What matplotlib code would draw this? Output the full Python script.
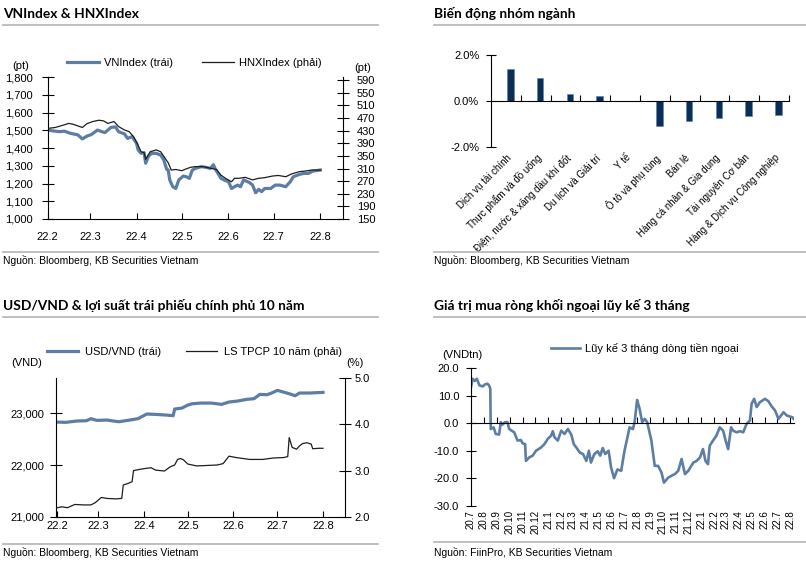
import matplotlib
matplotlib.use('Agg')
import matplotlib.pyplot as plt
import matplotlib.dates as mdates
import matplotlib.ticker as mticker
from matplotlib.lines import Line2D
import pandas as pd

BODY = ['Liberation Sans', 'DejaVu Sans']
TITLE = ['Lato', 'Noto Sans', 'DejaVu Sans']
plt.rcParams['font.family'] = BODY
plt.rcParams['font.size'] = 8

W, H = 806, 562
BLUE = '#5C7DA6'
DARK = '#1E1E1E'
NAVY = '#0B2E59'
RULE = '#B4B4B4'

# ---------------- data ----------------
# VNIndex & HNXIndex (2022)
vn_dates = ['2022-02-01', '2022-02-04', '2022-02-09', '2022-02-12', '2022-02-16', '2022-02-21',
            '2022-02-24', '2022-02-27', '2022-03-02', '2022-03-06', '2022-03-09', '2022-03-11',
            '2022-03-15', '2022-03-18', '2022-03-20', '2022-03-24', '2022-03-26', '2022-03-29',
            '2022-04-01', '2022-04-02', '2022-04-04', '2022-04-06', '2022-04-07', '2022-04-09',
            '2022-04-11', '2022-04-14', '2022-04-17', '2022-04-19', '2022-04-21', '2022-04-22',
            '2022-04-23', '2022-04-25', '2022-04-27', '2022-04-29', '2022-05-02', '2022-05-04',
            '2022-05-06', '2022-05-08', '2022-05-10', '2022-05-14', '2022-05-17', '2022-05-20',
            '2022-05-22', '2022-05-23', '2022-05-25', '2022-05-27', '2022-05-29', '2022-06-01',
            '2022-06-03', '2022-06-05', '2022-06-07', '2022-06-09', '2022-06-11', '2022-06-15',
            '2022-06-17', '2022-06-19', '2022-06-21', '2022-06-23', '2022-06-25', '2022-06-29',
            '2022-07-02', '2022-07-05', '2022-07-09', '2022-07-12', '2022-07-14', '2022-07-18',
            '2022-07-21', '2022-07-24', '2022-07-27', '2022-08-01']
vn_vals = [1501, 1497, 1492, 1495, 1483, 1474, 1451, 1467, 1476, 1501, 1492, 1487,
           1516, 1519, 1492, 1479, 1454, 1464, 1426, 1389, 1370, 1374, 1314, 1355,
           1370, 1370, 1360, 1333, 1280, 1276, 1220, 1182, 1172, 1220, 1242, 1238,
           1229, 1276, 1285, 1295, 1291, 1285, 1306, 1285, 1257, 1229, 1220, 1210,
           1172, 1182, 1191, 1182, 1220, 1205, 1191, 1148, 1167, 1154, 1172, 1172,
           1191, 1191, 1182, 1210, 1238, 1251, 1257, 1257, 1270, 1276]

hnx_dates = ['2022-02-01', '2022-02-06', '2022-02-11', '2022-02-15', '2022-02-18', '2022-02-24',
             '2022-02-27', '2022-03-03', '2022-03-07', '2022-03-10', '2022-03-13', '2022-03-17',
             '2022-03-20', '2022-03-24', '2022-03-27', '2022-03-30', '2022-04-02', '2022-04-04',
             '2022-04-06', '2022-04-07', '2022-04-10', '2022-04-14', '2022-04-17', '2022-04-19',
             '2022-04-22', '2022-04-24', '2022-04-27', '2022-05-01', '2022-05-04', '2022-05-07',
             '2022-05-10', '2022-05-15', '2022-05-19', '2022-05-24', '2022-05-27', '2022-05-30',
             '2022-06-03', '2022-06-05', '2022-06-08', '2022-06-12', '2022-06-17', '2022-06-21',
             '2022-06-25', '2022-06-30', '2022-07-04', '2022-07-09', '2022-07-13', '2022-07-18',
             '2022-07-22', '2022-07-26', '2022-08-01']
hnx_vals = [437, 440, 447, 453, 450, 440, 452, 459, 463, 461, 453, 459,
            443, 432, 427, 411, 384, 363, 360, 339, 363, 369, 363, 349,
            328, 305, 307, 303, 309, 314, 316, 316, 312, 307, 289, 279,
            268, 279, 279, 282, 274, 279, 281, 286, 288, 284, 293, 300,
            302, 305, 305]

# Sector performance (%)
sectors = ['Dịch vụ tài chính', 'Thực phẩm và đồ uống', 'Điện, nước & xăng dầu khí đốt',
           'Du lịch và Giải trí', 'Y tế', 'Ô tô và phụ tùng', 'Bán lẻ',
           'Hàng cá nhân & Gia dụng', 'Tài nguyên Cơ bản', 'Hàng & Dịch vụ Công nghiệp']
sector_chg = [1.39, 0.99, 0.32, 0.20, 0.0, -1.07, -0.88, -0.72, -0.65, -0.62]

# USD/VND and 10Y government bond yield
fx_dates = ['2022-01-31', '2022-02-07', '2022-02-14', '2022-02-21', '2022-02-24', '2022-02-28',
            '2022-03-07', '2022-03-13', '2022-03-15', '2022-03-21', '2022-03-28', '2022-03-31',
            '2022-04-03', '2022-04-09', '2022-04-16', '2022-04-21', '2022-04-22', '2022-04-27',
            '2022-05-01', '2022-05-04', '2022-05-10', '2022-05-17', '2022-05-24', '2022-05-29',
            '2022-06-04', '2022-06-10', '2022-06-15', '2022-06-19', '2022-06-24', '2022-06-27',
            '2022-07-01', '2022-07-05', '2022-07-09', '2022-07-13', '2022-07-16', '2022-07-23',
            '2022-07-27', '2022-08-01']
fx_vals = [22827, 22821, 22846, 22853, 22891, 22859, 22865, 22840, 22833, 22859, 22891, 22936,
           22981, 22974, 22962, 22949, 23077, 23096, 23154, 23179, 23192, 23192, 23167, 23212,
           23231, 23263, 23276, 23359, 23353, 23385, 23436, 23404, 23372, 23333, 23385, 23385,
           23391, 23397]

bond_dates = ['2022-01-31', '2022-02-04', '2022-02-08', '2022-02-13', '2022-02-19', '2022-02-24',
              '2022-02-27', '2022-03-03', '2022-03-07', '2022-03-13', '2022-03-17', '2022-03-18',
              '2022-03-21', '2022-03-24', '2022-03-25', '2022-03-30', '2022-04-03', '2022-04-06',
              '2022-04-09', '2022-04-15', '2022-04-19', '2022-04-22', '2022-04-24', '2022-04-26',
              '2022-04-28', '2022-05-01', '2022-05-07', '2022-05-14', '2022-05-21', '2022-05-25',
              '2022-05-29', '2022-06-03', '2022-06-12', '2022-06-21', '2022-06-28', '2022-07-05',
              '2022-07-08', '2022-07-09', '2022-07-11', '2022-07-14', '2022-07-16', '2022-07-18',
              '2022-07-21', '2022-07-24', '2022-07-25', '2022-07-29', '2022-08-01']
bond_vals = [2.19, 2.22, 2.20, 2.27, 2.26, 2.26, 2.31, 2.42, 2.40, 2.39, 2.40, 2.69,
             2.72, 2.76, 3.00, 3.03, 3.05, 3.06, 3.01, 2.99, 3.08, 3.12, 3.24, 3.26,
             3.23, 3.14, 3.10, 3.11, 3.12, 3.15, 3.31, 3.28, 3.24, 3.24, 3.27, 3.28,
             3.30, 3.71, 3.50, 3.46, 3.53, 3.58, 3.60, 3.57, 3.47, 3.48, 3.48]

# Foreign net buying, 3-month rolling sum (VND trillion)
flow_dates = ['2020-07-01', '2020-07-05', '2020-07-10', '2020-07-15', '2020-07-21', '2020-07-29',
              '2020-08-03', '2020-08-09', '2020-08-13', '2020-08-16', '2020-08-17', '2020-08-24',
              '2020-08-29', '2020-09-06', '2020-09-10', '2020-09-14', '2020-09-20', '2020-09-26',
              '2020-09-30', '2020-10-12', '2020-10-20', '2020-10-28', '2020-11-01', '2020-11-07',
              '2020-11-09', '2020-11-17', '2020-11-25', '2020-12-03', '2020-12-15', '2020-12-23',
              '2020-12-31', '2021-01-08', '2021-01-12', '2021-01-16', '2021-01-24', '2021-02-01',
              '2021-02-09', '2021-02-17', '2021-02-25', '2021-03-03', '2021-03-09', '2021-03-17',
              '2021-03-25', '2021-04-02', '2021-04-08', '2021-04-13', '2021-04-21', '2021-04-29',
              '2021-05-05', '2021-05-11', '2021-05-17', '2021-05-25', '2021-05-31', '2021-06-07',
              '2021-06-15', '2021-06-24', '2021-07-02', '2021-07-09', '2021-07-14', '2021-07-22',
              '2021-07-26', '2021-08-01', '2021-08-07', '2021-08-13', '2021-08-19', '2021-08-25',
              '2021-09-04', '2021-09-12', '2021-09-20', '2021-09-28', '2021-10-04', '2021-10-14',
              '2021-10-22', '2021-10-30', '2021-11-07', '2021-11-15', '2021-11-23', '2021-12-01',
              '2021-12-13', '2021-12-21', '2021-12-29', '2022-01-05', '2022-01-11', '2022-01-17',
              '2022-01-21', '2022-01-29', '2022-02-06', '2022-02-14', '2022-02-22', '2022-02-28',
              '2022-03-06', '2022-03-13', '2022-03-18', '2022-03-26', '2022-04-03', '2022-04-11',
              '2022-04-19', '2022-04-27', '2022-05-01', '2022-05-07', '2022-05-13', '2022-05-21',
              '2022-06-02', '2022-06-10', '2022-06-18', '2022-06-26', '2022-07-04', '2022-07-10',
              '2022-07-16', '2022-07-24', '2022-08-01', '2022-08-06', '2022-08-09']
flow_vals = [13.2, 16.2, 15.4, 16.2, 13.8, 13.4, 14.1, 14.4, 13.8, 12.6, -2.1, -1.5,
             -3.9, -4.1, 0.4, -0.5, 0.4, 0.4, -2.1, -3.3, -6.3, -6.1, -7.3, -7.6,
             -13.7, -12.4, -11.8, -10.0, -8.8, -7.6, -5.7, -4.5, -2.9, -5.1, -6.3, -2.7,
             -3.9, -2.1, -4.1, -7.6, -8.8, -10.6, -11.2, -13.7, -10.0, -14.3, -11.2, -10.2,
             -11.8, -9.0, -11.2, -10.0, -16.1, -20.0, -16.8, -17.3, -10.0, -5.1, -1.5, -2.1,
             0.4, 8.5, 5.2, 0.4, 1.6, 0.4, -6.3, -15.5, -15.5, -17.9, -21.6, -19.8,
             -19.1, -18.5, -17.3, -13.0, -18.5, -17.3, -14.3, -13.7, -12.4, -9.4, -13.7, -14.9,
             -8.2, -6.3, -4.5, -1.5, -2.7, -6.3, -9.4, -1.5, -2.7, -3.3, -2.9, -3.3,
             -0.2, 1.0, 7.1, 8.9, 5.9, 7.7, 8.9, 8.0, 6.1, 4.6, 1.6, 2.8,
             4.0, 2.8, 2.4, 2.2, 1.6]


def rect(l, t, r, b):
    return [l / W, 1 - b / H, (r - l) / W, (b - t) / H]


def ftext(x, y, s, **kw):
    kw.setdefault('va', 'center')
    fig.text(x / W, 1 - y / H, s, **kw)


def rule(x0, x1, y):
    fig.add_artist(Line2D([x0 / W, x1 / W], [1 - y / H, 1 - y / H],
                          transform=fig.transFigure, color=RULE, lw=1.2))


def month_label(x, pos=None):
    d = mdates.num2date(x)
    return f'{d.year % 100}.{d.month}'


def header(x, y_title, y_rule, x_end, title, y_foot_rule, y_foot, source):
    ftext(x, y_title, title, family=TITLE, fontweight='bold', fontsize=9.9)
    rule(x, x_end, y_rule)
    rule(x, x_end, y_foot_rule)
    ftext(x, y_foot, source, fontsize=7.5)


fig = plt.figure(figsize=(W / 100, H / 100), dpi=100)

# ---------- panel 1: VNIndex & HNXIndex ----------
header(3, 14, 25, 378, 'VNIndex & HNXIndex', 252, 260, 'Nguồn: Bloomberg, KB Securities Vietnam')
ax1 = fig.add_axes(rect(47.7, 77, 343, 219))
ax1.plot(pd.to_datetime(vn_dates), vn_vals, color=BLUE, lw=2.3, label='VNIndex (trái)')
ax1r = ax1.twinx()
ax1r.plot(pd.to_datetime(hnx_dates), hnx_vals, color=DARK, lw=0.9, label='HNXIndex (phải)')
ax1.set_ylim(1000, 1800)
ax1.set_yticks(range(1000, 1801, 100))
ax1.yaxis.set_major_formatter(mticker.StrMethodFormatter('{x:,.0f}'))
ax1r.set_ylim(150, 600)
ax1r.set_yticks(range(150, 591, 40))
ax1.set_xlim(pd.Timestamp('2022-02-01'), pd.Timestamp('2022-08-16'))
ax1.xaxis.set_major_locator(mdates.MonthLocator())
ax1.xaxis.set_major_formatter(mticker.FuncFormatter(month_label))
ax1.tick_params(axis='x', direction='in', length=4, pad=9)
ax1.tick_params(axis='y', direction='inout', length=8, pad=7)
ax1r.tick_params(axis='y', direction='inout', length=8, pad=6)
for a in (ax1, ax1r):
    a.spines['top'].set_visible(False)
ax1.spines['right'].set_visible(False)
ax1r.spines['left'].set_visible(False)
ax1r.spines['bottom'].set_visible(False)
h1 = ax1.get_lines() + ax1r.get_lines()
fig.legend(h1, [l.get_label() for l in h1], loc='center', bbox_to_anchor=(194.5 / W, 1 - 63 / H),
           ncol=2, frameon=False, handlelength=2.9, handletextpad=0.45, columnspacing=2.6,
           fontsize=8)
ftext(21, 66, '(pt)', ha='center')
ftext(363, 68, '(pt)', ha='center')

# ---------- panel 2: sector performance ----------
header(434, 14, 25, 806, 'Biến động nhóm ngành', 252, 260, 'Nguồn: Bloomberg, KB Securities Vietnam')
ax2 = fig.add_axes(rect(491, 55, 789, 147))
pos = range(len(sectors))
ax2.bar([p + 0.15 for p in pos], sector_chg, width=0.22, color=NAVY, edgecolor='#5F7FA6', lw=0.4)
ax2.set_xlim(-0.5, len(sectors) - 0.5)
ax2.set_ylim(-2, 2)
ax2.set_yticks([-2, 0, 2])
ax2.yaxis.set_major_formatter(mticker.FuncFormatter(lambda v, p: f'{v:.1f}%'))
ax2.tick_params(axis='y', direction='inout', length=7, pad=5)
ax2.spines['bottom'].set_position(('data', 0))
ax2.spines['top'].set_visible(False)
ax2.spines['right'].set_visible(False)
ax2.set_xticks([p + 0.5 for p in pos])
ax2.tick_params(axis='x', direction='in', length=4, labelbottom=False)
sec2 = ax2.secondary_xaxis('bottom')
sec2.set_xticks(list(pos), labels=sectors, rotation=45, ha='right', rotation_mode='anchor', fontsize=7)
sec2.tick_params(length=0, pad=4)
sec2.spines['bottom'].set_visible(False)

# ---------- panel 3: USD/VND & 10Y yield ----------
header(3, 306, 317, 378, 'USD/VND & lợi suất trái phiếu chính phủ 10 năm', 544, 552,
       'Nguồn: Bloomberg, KB Securities Vietnam')
ax3 = fig.add_axes(rect(55.7, 377.7, 345, 517))
ax3.plot(pd.to_datetime(fx_dates), fx_vals, color=BLUE, lw=2.3, label='USD/VND (trái)')
ax3r = ax3.twinx()
ax3r.plot(pd.to_datetime(bond_dates), bond_vals, color=DARK, lw=0.9, label='LS TPCP 10 năm (phải)')
ax3.set_ylim(21000, 23680)
ax3.set_yticks([21000, 22000, 23000])
ax3.yaxis.set_major_formatter(mticker.StrMethodFormatter('{x:,.0f}'))
ax3r.set_ylim(2, 5)
ax3r.set_yticks([2, 3, 4, 5])
ax3r.yaxis.set_major_formatter(mticker.FuncFormatter(lambda v, p: f'{v:.1f}'))
ax3.set_xlim(pd.Timestamp('2022-01-31'), pd.Timestamp('2022-08-16'))
ax3.xaxis.set_major_locator(mdates.MonthLocator())
ax3.xaxis.set_major_formatter(mticker.FuncFormatter(month_label))
ax3.tick_params(axis='x', direction='in', length=4, pad=3)
ax3.tick_params(axis='y', direction='inout', length=8, pad=4)
ax3r.tick_params(axis='y', direction='inout', length=8, pad=3)
for a in (ax3, ax3r):
    a.spines['top'].set_visible(False)
ax3.spines['right'].set_visible(False)
ax3r.spines['left'].set_visible(False)
ax3r.spines['bottom'].set_visible(False)
h3 = ax3.get_lines() + ax3r.get_lines()
fig.legend(h3, [l.get_label() for l in h3], loc='center', bbox_to_anchor=(194.5 / W, 1 - 352 / H),
           ncol=2, frameon=False, handlelength=2.8, handletextpad=0.6, columnspacing=2.3,
           fontsize=8)
ftext(27, 363, '(VND)', ha='center')
ftext(355, 363, '(%)', ha='center')

# ---------- panel 4: foreign net buying ----------
header(434, 306, 317, 806, 'Giá trị mua ròng khối ngoại lũy kế 3 tháng', 542, 552,
       'Nguồn: FiinPro, KB Securities Vietnam')
ax4 = fig.add_axes(rect(471, 368.3, 794, 505.7))
ax4.plot(pd.to_datetime(flow_dates), flow_vals, color=BLUE, lw=1.9, label='Lũy kế 3 tháng dòng tiền ngoại')
ax4.set_ylim(-30, 20)
ax4.set_yticks(range(-30, 21, 10))
ax4.yaxis.set_major_formatter(mticker.FuncFormatter(lambda v, p: f'{v:.1f}'))
ax4.tick_params(axis='y', direction='inout', length=7, pad=5)
ax4.set_xlim(pd.Timestamp('2020-07-01'), pd.Timestamp('2022-08-10'))
months = pd.date_range('2020-07-01', '2022-08-01', freq='MS')
ax4.set_xticks(months)
ax4.tick_params(axis='x', direction='in', length=4, labelbottom=False)
ax4.spines['bottom'].set_position(('data', 0))
ax4.spines['top'].set_visible(False)
ax4.spines['right'].set_visible(False)
sec4 = ax4.secondary_xaxis('bottom')
sec4.set_xticks(mdates.date2num(months), labels=[month_label(m) for m in mdates.date2num(months)],
                rotation=90, fontsize=7)
sec4.tick_params(length=0, pad=3)
sec4.spines['bottom'].set_visible(False)
fig.legend(loc='center', bbox_to_anchor=(645 / W, 1 - 348 / H), frameon=False,
           handles=ax4.get_lines(), handlelength=2.55, handletextpad=0.5, fontsize=8)
ftext(462, 355, '(VNDtn)', ha='center')

fig.savefig('out.png', dpi=100)
